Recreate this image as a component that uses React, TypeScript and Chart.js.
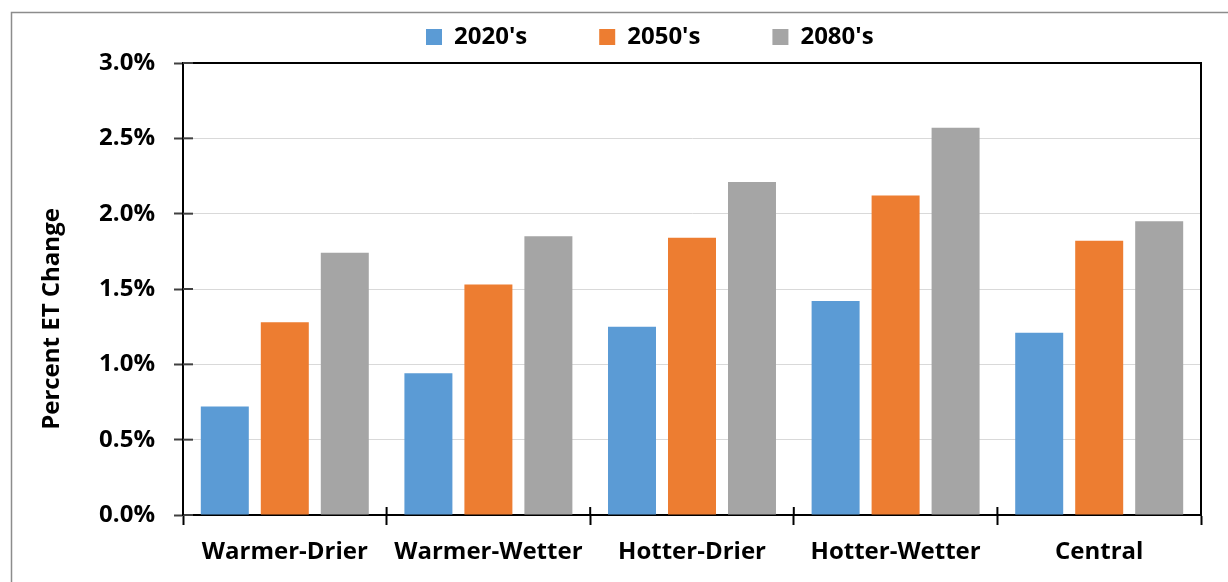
import React, { useEffect, useRef } from "react";
import { Chart, registerables } from "chart.js";

Chart.register(...registerables);

const categories = ["Warmer-Drier", "Warmer-Wetter", "Hotter-Drier", "Hotter-Wetter", "Central"];
const seriesNames = ["2020's", "2050's", "2080's"];
const values2020 = [0.72, 0.94, 1.25, 1.42, 1.21];
const values2050 = [1.28, 1.53, 1.84, 2.12, 1.82];
const values2080 = [1.74, 1.85, 2.21, 2.57, 1.95];
const yTickValues = [0, 0.5, 1, 1.5, 2, 2.5, 3];
const seriesColors = ["#5B9BD5", "#ED7D31", "#A5A5A5"];
const yTitle = "Percent ET Change";

const FONT = "'Open Sans', 'DejaVu Sans', sans-serif";
const LEGEND_GAP = 72;

const framePlugin = {
  id: "frame",
  beforeDraw(chart: any) {
    const { ctx, width, height } = chart;
    ctx.save();
    ctx.fillStyle = "#ffffff";
    ctx.fillRect(0, 0, width, height);
    ctx.strokeStyle = "#8c8c8c";
    ctx.lineWidth = 1.5;
    ctx.beginPath();
    ctx.moveTo(11.5, height);
    ctx.lineTo(11.5, 12.5);
    ctx.lineTo(width, 12.5);
    ctx.stroke();
    ctx.restore();
    const s = chart.scales.y;
    if (s && !s.__patched) {
      const d0 = s.drawTitle;
      s.drawTitle = function () {
        this.ctx.save();
        this.ctx.translate(0, 30);
        d0.call(this);
        this.ctx.restore();
      };
      s.__patched = true;
    }
  },
  afterInit(chart: any) {
    const lg = chart.legend;
    if (!lg) return;
    const fit0 = lg.fit;
    lg.fit = function () {
      fit0.call(this);
      this.height = 46;
    };
    const draw0 = lg.draw;
    lg.draw = function (area: any) {
      const { left, right, top } = this;
      const pad = this.options.labels.padding;
      const startX = (left + pad + right - this.lineWidths[0]) / 2;
      const dx = 426 - startX;
      this.left = left + dx;
      this.right = right + dx;
      this.top = 25 - pad;
      draw0.call(this, area);
      this.left = left;
      this.right = right;
      this.top = top;
    };
  },
  afterDraw(chart: any) {
    const { ctx } = chart;
    const { left, right, top, bottom } = chart.chartArea;
    ctx.save();
    ctx.strokeStyle = "#000";
    ctx.lineWidth = 2;
    ctx.beginPath();
    ctx.moveTo(left - 1, top);
    ctx.lineTo(right, top);
    ctx.lineTo(right, bottom);
    ctx.stroke();
    const y = chart.scales.y;
    ctx.strokeStyle = "#404040";
    y.ticks.forEach((_t: any, i: number) => {
      const p = y.getPixelForTick(i);
      ctx.beginPath();
      ctx.moveTo(left, p);
      ctx.lineTo(left + 10, p);
      ctx.stroke();
    });
    ctx.strokeStyle = "#000";
    const n = categories.length;
    for (let i = 0; i <= n; i++) {
      const p = left + ((right - left) * i) / n;
      ctx.beginPath();
      ctx.moveTo(p, bottom);
      ctx.lineTo(p, bottom - 8);
      ctx.stroke();
    }
    ctx.restore();
  },
};

export default function App() {
  const ref = useRef<HTMLCanvasElement | null>(null);

  useEffect(() => {
    document.body.style.margin = "0";
    if (!ref.current) return;
    const font = { family: FONT, size: 24, weight: "bold" as const };
    const seriesValues = [values2020, values2050, values2080];
    const chart = new Chart(ref.current, {
      type: "bar",
      data: {
        labels: categories,
        datasets: seriesNames.map((name, i) => ({
          label: name,
          data: seriesValues[i],
          backgroundColor: seriesColors[i],
          borderWidth: 0,
          categoryPercentage: 0.884,
          barPercentage: 0.8,
        })),
      },
      options: {
        responsive: false,
        animation: false,
        devicePixelRatio: 1,
        layout: { padding: { top: 17, right: 27, bottom: 0, left: 0 } },
        plugins: {
          legend: {
            position: "top",
            labels: {
              boxWidth: 16,
              boxHeight: 16,
              padding: LEGEND_GAP,
              font,
              color: "#000",
            },
          },
          tooltip: { enabled: false },
        },
        scales: {
          x: {
            ticks: { font, color: "#000", padding: 13 },
            grid: {
              display: true,
              drawOnChartArea: false,
              drawTicks: true,
              tickLength: 10,
              tickColor: "#000",
              tickWidth: 2,
              offset: true,
            },
            border: { color: "#000", width: 2 },
            afterFit: (s: any) => {
              s.height = 67;
            },
          },
          y: {
            min: 0,
            max: 3,
            afterBuildTicks: (s: any) => {
              s.ticks = yTickValues.map((v) => ({ value: v }));
            },
            ticks: {
              font,
              color: "#000",
              padding: 19,
              callback: (v: any) => Number(v).toFixed(1) + "%",
            },
            grid: {
              color: "#d9d9d9",
              lineWidth: 1,
              tickLength: 9,
              tickColor: "#404040",
              tickWidth: 2,
              drawTicks: true,
            },
            border: { color: "#000", width: 2 },
            title: {
              display: true,
              text: yTitle,
              font,
              color: "#000",
              padding: { top: 38, bottom: 0 },
            },
            afterFit: (s: any) => {
              s.width = 183;
            },
          },
        },
      },
      plugins: [framePlugin],
    });
    return () => chart.destroy();
  }, []);

  return (
    <div style={{ width: 1228, height: 582 }}>
      <canvas ref={ref} width={1228} height={582} style={{ display: "block" }} />
    </div>
  );
}
